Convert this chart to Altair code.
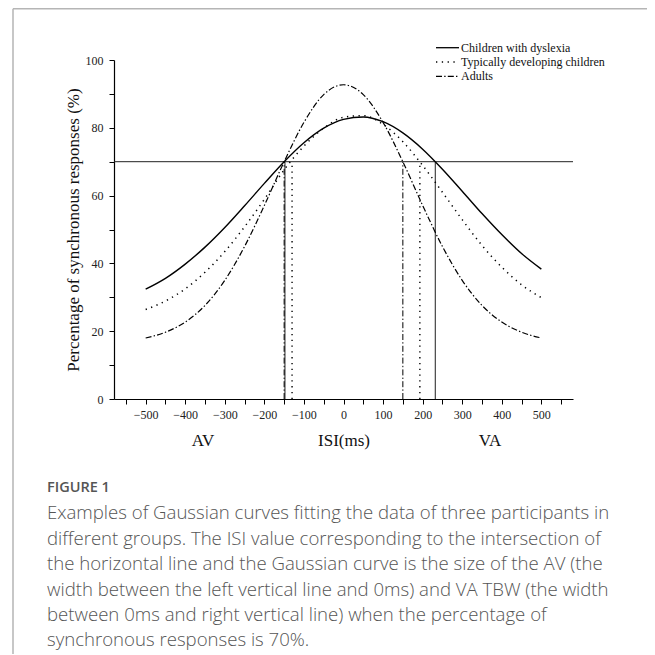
import altair as alt
import pandas as pd

# ---- data ----
isi = [-500, -450, -400, -350, -300, -250, -200, -150, -100, -50, 0,
       50, 100, 150, 200, 250, 300, 350, 400, 450, 500]
dyslexia = [32.4, 35.6, 39.8, 44.8, 50.6, 57.0, 63.6, 70.0, 75.6, 79.9, 82.5,
            83.2, 81.8, 78.5, 73.7, 67.8, 61.3, 54.7, 48.5, 42.9, 38.3]
typical = [26.4, 28.9, 32.5, 37.4, 43.5, 50.8, 58.9, 67.6, 74.6, 79.9, 83.1,
           83.6, 81.0, 75.9, 68.9, 61.0, 52.9, 45.3, 38.9, 33.7, 29.9]
adults = [18.0, 19.7, 22.7, 27.6, 35.0, 45.0, 57.1, 70.0, 81.6, 89.8, 92.7,
          89.8, 81.6, 70.0, 57.1, 45.0, 35.0, 27.6, 22.7, 19.7, 18.0]
threshold = 70
cross_dys = [-148, 232]
cross_td = [-130, 193]
cross_ad = [-150, 150]

legend_labels = ["Children with dyslexia", "Typically developing children", "Adults"]
caption_head = "FIGURE 1"
caption_lines = [
    "Examples of Gaussian curves fitting the data of three participants in",
    "different groups. The ISI value corresponding to the intersection of",
    "the horizontal line and the Gaussian curve is the size of the AV (the",
    "width between the left vertical line and 0ms) and VA TBW (the width",
    "between 0ms and right vertical line) when the percentage of",
    "synchronous responses is 70%.",
]

SERIF = "Liberation Serif"
SANS = "Open Sans"
DASH_DOT = [6, 2.2, 1.4, 2.2]
DOT = [1.3, 4.5]

xs = alt.Scale(domain=[-580, 580], nice=False, zero=False)
ys = alt.Scale(domain=[0, 100], nice=False, zero=False)

xaxis = alt.Axis(
    values=list(range(-550, 551, 50)),
    labelExpr="(datum.value % 100 == 0 && abs(datum.value) <= 500) ? datum.label : ''",
    title="ISI(ms)", titleFont=SERIF, titleFontSize=17, titleFontWeight="normal",
    titleColor="#111", titleY=41, titleBaseline="middle",
    labelFont=SERIF, labelFontSize=12, labelColor="#222", labelPadding=5,
    labelFlush=False, labelOverlap=False,
    tickSize=5, tickColor="#000", domainColor="#000", domainWidth=1.2, tickWidth=1,
    grid=False,
)
yaxis = alt.Axis(
    values=list(range(0, 101, 10)),
    labelExpr="datum.value % 20 == 0 ? datum.label : ''",
    title="Percentage of synchronous responses (%)", titleFont=SERIF, titleFontSize=17,
    titleFontWeight="normal", titleColor="#111", titleX=-41, titleY=169.5,
    titleAngle=270, titleAlign="center", titleBaseline="middle",
    labelFont=SERIF, labelFontSize=12, labelColor="#222", labelPadding=6,
    labelFlush=False, labelOverlap=False,
    tickSize=5, tickColor="#000", domainColor="#000", domainWidth=1.2, tickWidth=1,
    grid=False,
)


def curve(vals, dash=None, width=1.3):
    df = pd.DataFrame({"isi": isi, "p": vals})
    kw = dict(color="black", strokeWidth=width, interpolate="monotone")
    if dash is not None:
        kw["strokeDash"] = dash
    return alt.Chart(df).mark_line(**kw).encode(
        x=alt.X("isi:Q", scale=xs, axis=xaxis),
        y=alt.Y("p:Q", scale=ys, axis=yaxis),
    )


def vlines(xvals, dash=None, width=1.1, color="black"):
    df = pd.DataFrame({"isi": xvals, "p": [0] * len(xvals), "p2": [threshold] * len(xvals)})
    kw = dict(color=color, strokeWidth=width)
    if dash is not None:
        kw["strokeDash"] = dash
    return alt.Chart(df).mark_rule(**kw).encode(
        x=alt.X("isi:Q", scale=xs, axis=xaxis),
        y=alt.Y("p:Q", scale=ys, axis=yaxis),
        y2="p2:Q",
    )


hline = alt.Chart(pd.DataFrame({"p": [threshold]})).mark_rule(color="#222", strokeWidth=1).encode(
    y=alt.Y("p:Q", scale=ys, axis=yaxis)
)

layers = [
    hline,
    vlines(cross_dys, None, 1.1, "#333"),
    vlines(cross_td, DOT, 1.4),
    vlines(cross_ad, DASH_DOT, 1.0),
    curve(dyslexia, None, 1.4),
    curve(typical, DOT, 1.5),
    curve(adults, DASH_DOT, 1.2),
]

# legend (manual)
leg_y = [-12.3, 2.0, 16.3]
leg_dash = [None, DOT, DASH_DOT]
for lab, yy, dsh in zip(legend_labels, leg_y, leg_dash):
    kw = dict(color="black", strokeWidth=1.3)
    if dsh is not None:
        kw["strokeDash"] = dsh
    layers.append(
        alt.Chart(pd.DataFrame({"a": [0]})).mark_rule(**kw).encode(
            x=alt.value(322), x2=alt.value(345), y=alt.value(yy)
        )
    )
    layers.append(
        alt.Chart(pd.DataFrame({"a": [0]})).mark_text(
            text=lab, font=SERIF, fontSize=12, align="left", baseline="middle", color="#111"
        ).encode(x=alt.value(347), y=alt.value(yy))
    )

# AV / VA labels
for lab, xx in [("AV", 89), ("VA", 376)]:
    layers.append(
        alt.Chart(pd.DataFrame({"a": [0]})).mark_text(
            text=lab, font=SERIF, fontSize=17, align="center", baseline="middle", color="#111"
        ).encode(x=alt.value(xx), y=alt.value(380.5))
    )

# page frame lines
layers.append(
    alt.Chart(pd.DataFrame({"a": [0]})).mark_rule(color="#b5b5b5", strokeWidth=1.5).encode(
        x=alt.value(-101), x2=alt.value(533), y=alt.value(-51.3)
    )
)
layers.append(
    alt.Chart(pd.DataFrame({"a": [0]})).mark_rule(color="#b5b5b5", strokeWidth=1.5).encode(
        x=alt.value(-101), y=alt.value(-51.3), y2=alt.value(596)
    )
)

# caption
layers.append(
    alt.Chart(pd.DataFrame({"a": [0]})).mark_text(
        text=caption_head, font=SANS, fontSize=14.5, fontWeight=600, align="left",
        baseline="middle", color="#555"
    ).encode(x=alt.value(-67), y=alt.value(427.5))
)
cap_y = [453, 478.5, 504, 529.5, 554.5, 580]
for line, yy in zip(caption_lines, cap_y):
    layers.append(
        alt.Chart(pd.DataFrame({"a": [0]})).mark_text(
            text=line, font=SANS, fontSize=18.6, fontWeight=300, align="left",
            baseline="middle", color="#555"
        ).encode(x=alt.value(-67), y=alt.value(yy))
    )

chart = alt.layer(*layers).properties(
    width=459, height=339,
    autosize=alt.AutoSizeParams(type="none"),
    padding={"left": 106, "top": 52, "right": 74, "bottom": 255},
    background="white",
).configure_view(stroke=None)

chart.save("out.html", embed_options={"renderer": "svg", "actions": False})
